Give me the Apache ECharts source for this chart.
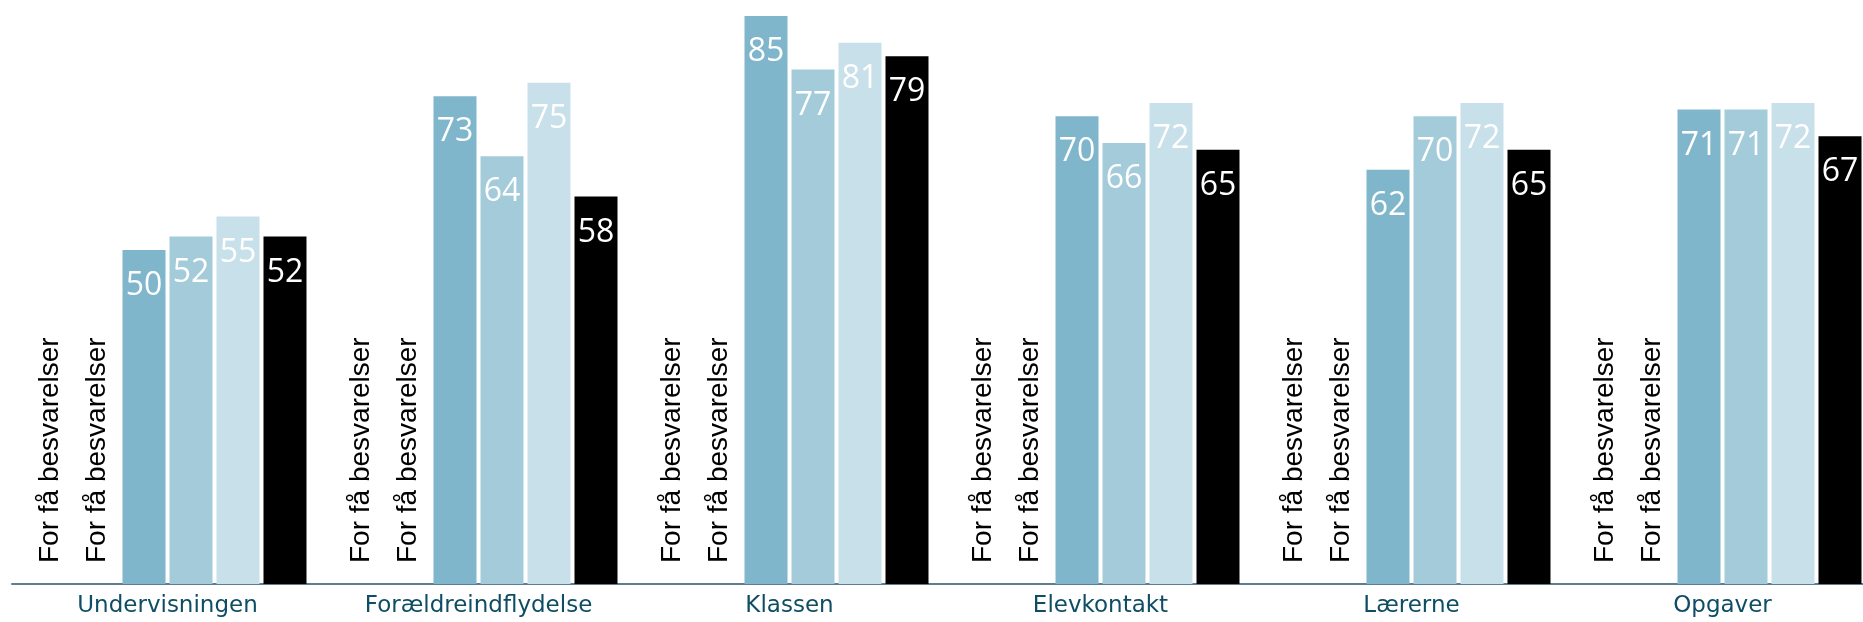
<!DOCTYPE html>
<html>
<head>
<meta charset="utf-8">
<script src="https://cdn.jsdelivr.net/npm/echarts@6/dist/echarts.min.js"></script>
<style>
html,body{margin:0;padding:0;background:#fff;overflow:hidden;width:1863px;height:622px;}
#chart{width:1878px;height:622px;}
</style>
</head>
<body>
<div id="chart"></div>
<script>
const categories = ['Undervisningen', 'Forældreindflydelse', 'Klassen', 'Elevkontakt', 'Lærerne', 'Opgaver'];
const seriesNames = ['Serie 1', 'Serie 2', 'Serie 3', 'Serie 4', 'Serie 5', 'Serie 6'];
const noDataText = 'For få besvarelser';
const series1 = [0, 0, 0, 0, 0, 0];
const series2 = [0, 0, 0, 0, 0, 0];
const series3 = [50, 73, 85, 70, 62, 71];
const series4 = [52, 64, 77, 66, 70, 71];
const series5 = [55, 75, 81, 72, 72, 72];
const series6 = [52, 58, 79, 65, 65, 67];
const colors = ['#7fb6cb', '#7fb6cb', '#7fb6cb', '#a3cbda', '#c8e0ea', '#000000'];

const allData = [series1, series2, series3, series4, series5, series6];

const chart = echarts.init(document.getElementById('chart'), null, {renderer: 'canvas'});

const series = allData.map((d, i) => {
  const empty = i < 2;
  return {
    name: seriesNames[i],
    type: 'bar',
    data: d,
    barWidth: 43,
    barGap: '9.3%',
    itemStyle: {color: colors[i]},
    label: empty ? {
      show: true,
      position: 'insideBottom',
      distance: 21,
      rotate: 90,
      align: 'left',
      verticalAlign: 'middle',
      formatter: noDataText,
      color: '#000',
      fontFamily: 'Liberation Sans',
      fontSize: 28
    } : {
      show: true,
      position: 'insideTop',
      distance: 20,
      formatter: '{c}',
      color: '#ffffff',
      fontFamily: 'Open Sans',
      fontSize: 32
    },
    silent: true,
    animation: false
  };
});

chart.setOption({
  animation: false,
  grid: {left: 12, right: 0, top: 0, bottom: 38, containLabel: false},
  xAxis: {
    type: 'category',
    data: categories,
    axisLine: {show: true, lineStyle: {color: '#5f7d90', width: 2}},
    axisTick: {show: false},
    axisLabel: {color: '#0e4d64', fontFamily: 'DejaVu Sans', fontSize: 23, margin: 11, interval: 0}
  },
  yAxis: {
    type: 'value',
    min: 0,
    max: 87.4,
    show: false,
    splitLine: {show: false}
  },
  series: series
});
</script>
</body>
</html>
